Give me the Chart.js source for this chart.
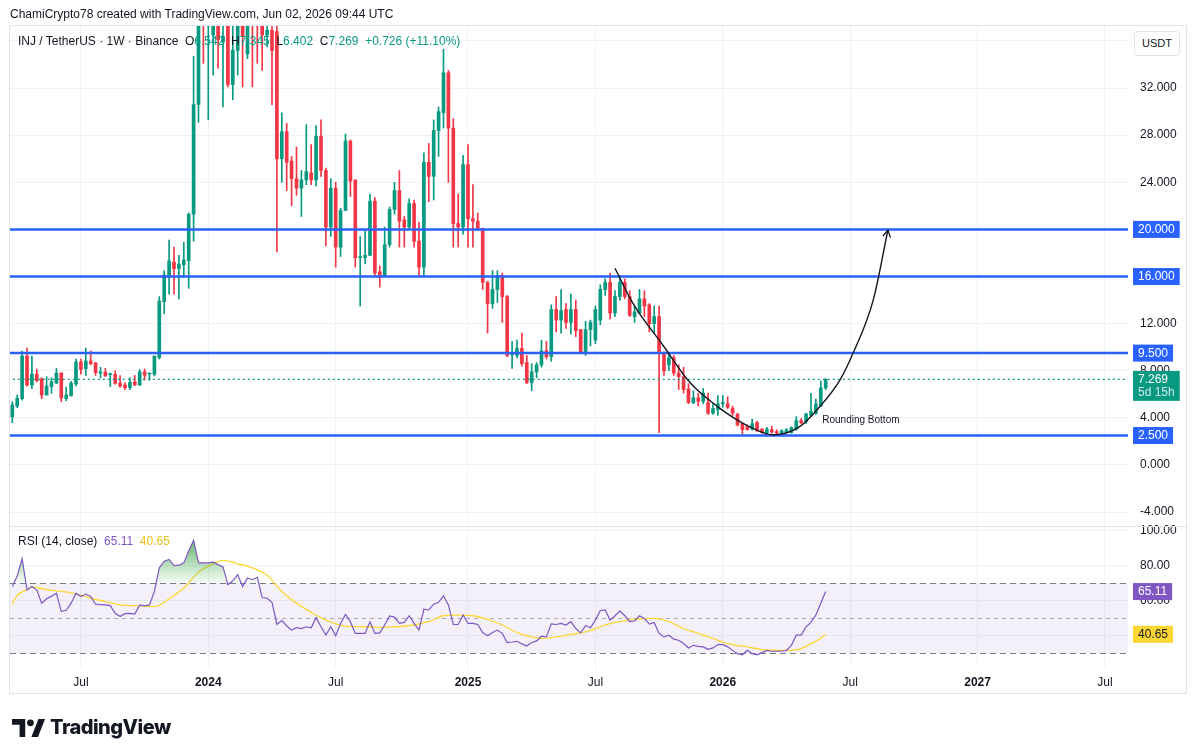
<!DOCTYPE html>
<html>
<head>
<meta charset="utf-8">
<title>INJ / TetherUS · 1W · Binance</title>
<script src="https://cdn.jsdelivr.net/npm/chart.js@4.4.1/dist/chart.umd.min.js"></script>
<style>
  html, body { margin: 0; padding: 0; background: #fff; }
  body { width: 1195px; height: 755px; position: relative; overflow: hidden;
         font-family: 'Liberation Sans', Arial, sans-serif; color: #131722; }
  #frame { position: absolute; left: 9px; top: 25px; width: 1178px; height: 669px;
           border: 1px solid #e0e3eb; box-sizing: border-box; }
  #wrap { position: absolute; left: 0; top: 0; width: 1195px; height: 755px; }
  .txt { position: absolute; white-space: nowrap; font-size: 12px; line-height: 14px; }
  #usdt { position: absolute; left: 1134px; top: 31px; width: 46px; height: 25px; box-sizing: border-box;
          border: 1px solid #e0e3eb; border-radius: 4px; font-size: 11px; line-height: 23px; text-align: center; background: #fff; }
  #logo { position: absolute; left: 12px; top: 715px; display: flex; align-items: center; }
  #logo b { font-family: Inter, 'Liberation Sans', sans-serif; font-weight: 800; font-size: 20px; letter-spacing: -0.5px; margin-left: 4px; }
</style>
</head>
<body>
<div id="frame"></div>
<div id="wrap"><canvas id="chart"></canvas></div>

<div class="txt" style="left:10px; top:7px; color:#131722;">ChamiCrypto78 created with TradingView.com, Jun 02, 2026 09:44 UTC</div>
<div class="txt" style="left:18px; top:34px;">INJ / TetherUS · 1W · Binance</div>
<div class="txt" id="ohlc" style="left:185px; top:34px;"></div>
<div class="txt" id="rsiLegend" style="left:18px; top:534px;"></div>
<div id="usdt">USDT</div>
<div id="logo">
  <svg width="34" height="19" viewBox="0 0 36 20">
    <path d="M14 20H8V7H0V1h14z" fill="#131722"/>
    <circle cx="19.5" cy="5" r="3.6" fill="#131722"/>
    <path d="M27.5 20h-7L28 1h7z" fill="#131722"/>
  </svg>
  <b>TradingView</b>
</div>

<script>
// weekly INJ/USDT candles, first bar = week of START_WEEK
const START_WEEK = '2023-03-27';
const opens = [4.07,5.0,5.63,9.25,6.79,7.72,7.33,5.94,6.65,6.96,7.8,5.63,5.88,6.88,8.74,8.18,8.83,8.66,7.8,7.87,
  7.68,7.7,6.96,6.79,6.56,7.05,6.79,7.89,7.72,7.7,9.11,13.86,16.07,17.23,16.67,17.0,17.34,21.3,30.6,42.0,
  37.5,36.5,38.5,35.9,38.0,32.3,35.2,38.0,34.9,44.0,42.0,38.5,36.5,36.9,36.8,26.0,28.3,25.8,24.3,23.5,
  24.2,24.8,24.2,27.9,25.0,20.2,23.5,18.5,21.6,27.5,24.2,17.6,17.6,17.8,22.4,16.4,16.1,18.7,21.7,23.3,
  20.8,20.2,22.2,19.0,16.8,25.7,24.5,28.4,29.9,33.3,28.6,20.5,20.2,25.5,20.9,20.7,20.1,15.5,13.7,14.9,
  16.1,14.3,9.35,9.3,9.9,8.7,7.0,7.9,8.5,9.7,9.2,13.2,12.3,13.2,12.1,13.2,11.5,9.6,11.5,10.6,
  12.3,14.9,15.5,12.9,14.3,15.5,14.3,12.6,12.9,14.1,13.6,12.0,12.6,9.5,8.5,9.1,7.8,7.5,6.45,5.3,
  5.7,5.4,5.3,4.4,4.7,5.2,5.2,4.8,4.3,3.5,3.25,3.05,3.6,3.05,2.75,3.0,2.83,2.75,2.8,2.75,
  3.03,3.76,3.68,4.22,4.39,5.0,6.542];
const highs = [5.37,5.94,9.68,9.93,9.25,8.15,7.4,7.5,7.4,8.2,7.85,6.62,7.1,9.0,9.0,9.93,9.68,8.7,8.3,8.2,
  7.8,8.0,7.6,7.0,7.4,7.6,8.1,8.15,7.8,9.25,14.3,16.5,19.1,18.5,17.8,18.9,21.4,34.7,41.0,45.0,
  42.0,40.0,39.0,38.0,39.0,37.5,40.0,39.0,42.0,46.0,44.0,40.0,37.5,37.5,37.3,29.9,29.0,26.2,27.0,25.0,
  28.9,27.2,28.8,29.3,25.2,24.3,24.0,21.8,28.1,27.6,24.2,19.4,19.9,23.0,22.7,16.9,20.2,21.9,24.0,25.0,
  21.1,22.6,22.5,20.6,26.5,27.3,29.3,30.4,35.3,33.5,29.4,23.0,26.3,27.2,23.8,21.4,20.1,15.6,16.5,16.5,
  16.3,14.4,10.5,10.6,11.2,9.3,8.6,8.7,10.6,10.5,13.6,14.3,14.9,13.7,14.5,14.0,11.5,12.2,12.3,13.5,
  15.3,15.8,16.3,14.8,16.1,15.8,14.8,13.5,14.9,14.8,13.7,13.5,13.5,9.6,9.4,9.3,8.5,8.3,6.9,6.3,
  6.1,6.5,6.1,5.2,5.9,5.9,5.8,5.0,4.4,3.6,3.4,3.9,3.7,3.1,3.2,3.3,3.0,3.0,3.1,3.25,
  4.1,3.95,4.4,6.09,5.6,7.13,7.345];
const lows = [3.59,4.86,5.5,6.7,6.48,7.05,5.63,5.94,6.08,6.9,5.37,5.45,5.85,6.7,7.72,7.6,8.5,7.6,7.4,7.5,
  6.65,6.85,6.6,6.4,6.4,6.75,6.75,7.2,7.2,7.55,9.0,12.84,14.5,14.5,14.1,15.9,15.0,19.0,29.1,34.1,
  29.3,33.1,33.7,30.4,32.1,31.0,33.1,32.1,34.5,32.1,34.1,33.5,35.5,30.6,18.1,24.0,23.3,22.0,22.9,21.1,
  23.8,23.8,23.7,24.5,18.6,19.4,16.8,17.7,21.6,22.8,16.8,13.5,17.1,17.8,16.1,15.1,16.0,18.5,21.3,18.5,
  18.5,20.1,18.5,16.1,16.0,22.35,22.5,26.2,28.6,24.0,18.5,18.5,19.6,18.5,18.5,19.9,14.9,11.2,13.3,13.8,
  12.1,9.2,8.2,9.1,8.4,6.9,6.3,7.4,8.3,9.0,8.8,11.3,11.2,11.6,11.1,10.9,9.6,9.3,10.1,10.3,
  11.9,14.4,12.4,12.6,14.0,14.1,12.6,12.1,12.9,12.6,11.3,11.2,2.74,7.6,8.0,7.6,6.4,6.1,5.2,5.2,
  5.0,5.2,4.3,4.3,4.2,4.9,4.8,4.2,3.3,2.6,2.95,2.95,2.85,2.7,2.7,2.7,2.65,2.7,2.75,2.7,
  2.95,3.5,3.5,4.1,4.3,4.95,6.402];
const closes = [5.09,5.66,9.25,6.79,7.72,7.16,5.94,6.7,7.07,7.8,5.69,5.94,6.96,8.74,8.12,8.83,8.6,7.84,7.9,7.58,
  7.74,6.93,6.7,6.56,7.02,6.79,7.89,7.63,7.78,9.25,13.92,16.13,17.32,16.67,17.06,17.4,21.3,30.6,39.0,37.5,
  39.0,38.5,36.1,36.4,32.3,35.2,38.0,36.4,39.0,40.0,38.5,36.5,36.9,35.2,26.0,28.3,25.7,24.3,23.5,24.2,
  24.9,24.2,27.9,25.0,20.2,23.5,18.5,21.6,27.5,24.1,17.6,17.65,17.8,22.4,16.3,16.1,18.7,21.7,23.3,20.7,
  20.2,22.2,19.0,16.8,25.7,24.5,28.4,30.0,33.3,28.6,20.5,20.2,25.5,20.9,20.7,20.1,15.5,13.7,14.9,16.1,
  14.3,9.3,9.5,9.9,8.6,7.0,7.9,8.5,9.7,9.2,13.2,12.3,13.1,12.1,13.2,11.4,9.6,11.5,12.1,13.2,
  14.9,15.5,12.9,14.3,15.5,14.3,12.7,13.0,14.1,13.5,12.0,12.6,9.5,8.0,9.1,7.8,7.5,6.4,5.3,5.7,
  5.4,6.1,4.4,4.8,5.2,5.3,4.9,4.4,3.4,3.0,3.0,3.5,2.9,2.75,3.05,2.8,2.72,2.9,2.97,3.17,
  3.76,3.59,4.33,4.56,5.18,6.543,7.269];

// RSI(14) per weekly bar and its moving average (read at sampled weeks)
const rsiValues = [68,74,84,66,68,66,58.5,61,62.5,64.2,53.7,54.4,58.5,64.2,62.3,63.7,62.3,57.9,57.6,57.5,
  57.1,52.7,50.8,52.5,52.7,52.3,57.5,56.9,57.5,65.2,78.7,82.5,83.5,80,80.2,81.5,88.3,94.4,81.5,81.5,
  81.5,81.9,80.5,79.2,69,71.3,74.8,68,72.9,71.9,73.3,61.7,61.3,59,46.3,48.5,45.6,43.1,44.5,44,
  45,44.4,50.2,45,40.2,45,39.8,46.9,52.1,47.9,41.2,41.2,41.2,47.9,41.2,41.5,46,51.2,50.5,46.9,
  47.5,51.3,46.9,43.1,55,54.6,57.9,59,62.7,57.5,46.3,46.3,51.7,46.9,46.9,46.3,41.7,39.8,41.7,43.1,
  41.2,36,36.3,36.7,35.2,34,36,36.9,39.6,39.2,46.7,46.3,46.9,46,47.9,44,41.5,45.6,44.4,48.8,
  54.3,54.6,48.8,51.3,54,51.3,47.9,48.3,51.3,49.8,46.5,47.5,41.2,39.2,40.2,37.9,37.3,35.4,32.9,34.4,
  33.8,33.5,32.1,32.9,34.8,34.8,33.5,31.5,29.6,29.0,31.5,29.6,29.0,30.2,31.5,31.0,31.0,31.0,31.5,34.4,
  40.2,40.2,45.0,47.5,51.7,58.5,65.11];
const rsiMaWeeks = [0,1,3,4,7,10,13,16,19,22,26,29,32,35,38,41,43,46,49,52,55,58,61,64,68,72,75,78,82,85,
  88,91,94,97,100,103,106,108,111,114,117,121,124,127,131,134,137,140,143,146,150,153,156,159,161,163,165,166];
const rsiMaValues = [57.9,62.9,66.2,67.7,66.2,65.2,63.8,61.3,59.4,57.5,56.9,56.5,61,67.1,76.2,81,83,81,78.7,74.4,
  65.2,58.5,53.3,48.8,45.4,45,44.6,45,46,47.9,51.3,51.7,51.3,49.2,46,41.7,39.2,38.3,39.2,40.6,
  42.1,46,47.9,49.2,49.8,47.9,44,41.2,38.3,35.4,33.5,31.9,31.5,31.5,32.5,35.4,38.3,40.65];

// drawn horizontal levels and the "Rounding Bottom" path
const levelPrices = [20, 16, 9.5, 2.5];
const curveWeeks  = [123.0,126.7,132.9,138.3,143.8,150.2,155.3,160.7,164.8,168.9,171.6,175.7,178.7];
const curvePrices = [16.7,13.7,10.1,7.0,5.0,3.3,2.55,3.25,4.95,7.2,9.5,14.0,19.95];
const patternNote = { text: 'Rounding Bottom', week: 165.3, price: 3.8 };

// axes
const timeTickDates  = ['2023-07-03','2024-01-01','2024-07-01','2025-01-06','2025-07-07','2026-01-05','2026-07-06','2027-01-04','2027-07-05'];
const timeTickLabels = ['Jul','2024','Jul','2025','Jul','2026','Jul','2027','Jul'];
const priceTicks = [-4,0,4,8,12,16,20,24,28,32,36];
const hiddenPriceTicks = [16,20,36];
const rsiTicks = [40,60,80,100];
const rsiBands = [70,50,30];

const UP = '#089981', DOWN = '#F23645', LEVEL = '#2962FF', RSI_C = '#7E57C2', MA_C = '#FDD835';
const FONT = "'Liberation Sans', Arial, sans-serif";
const WEEK_MS = 7 * 86400000;
const weekOf = d => Math.round((Date.parse(d) - Date.parse(START_WEEK)) / WEEK_MS);
const timeTickWeeks = timeTickDates.map(weekOf);

const last = closes.length - 1;
const lastClose = closes[last];
const chg = lastClose - closes[last - 1];

// legends
const g = v => `<span style="color:${UP}">${v}</span>`;
document.getElementById('ohlc').innerHTML =
  `O${g(opens[last].toFixed(3))}&nbsp; H${g(highs[last].toFixed(3))}&nbsp; L${g(lows[last].toFixed(3))}&nbsp; C${g(lastClose.toFixed(3))}&nbsp; ` +
  g(`+${chg.toFixed(3)} (+${(chg / closes[last - 1] * 100).toFixed(2)}%)`);
document.getElementById('rsiLegend').innerHTML =
  `RSI (14, close)&nbsp; <span style="color:${RSI_C}">${rsiValues[last].toFixed(2)}</span>&nbsp; <span style="color:#E8C21C">${rsiMaValues[rsiMaValues.length - 1].toFixed(2)}</span>`;

const bodyData = closes.map((c, i) => ({ x: i, y: [opens[i], c] }));
const wickData = highs.map((h, i) => ({ x: i, y: [lows[i], h] }));
const candleColors = closes.map((c, i) => (c >= opens[i] ? UP : DOWN));

const flat = (v, axis) => ({ data: [{ x: -5, y: v }, { x: 240, y: v }], yAxisID: axis });

function tag(ctx, x, yPix, lines, bg, colors) {
  ctx.font = `12px ${FONT}`;
  const w = Math.max(...lines.map(t => ctx.measureText(t).width)) + 10;
  const h = lines.length * 13 + 4;
  ctx.fillStyle = bg;
  ctx.fillRect(x, yPix - 8.5, w, h);
  ctx.textAlign = 'left';
  ctx.textBaseline = 'middle';
  lines.forEach((t, i) => {
    ctx.fillStyle = colors[i];
    ctx.fillText(t, x + 5, yPix + i * 13 + 0.5);
  });
}

const panes = {
  id: 'panes',
  beforeDatasetsDraw(chart) {
    const { ctx, chartArea, scales: { yr } } = chart;
    const top = yr.getPixelForValue(rsiBands[0]);
    const bot = yr.getPixelForValue(rsiBands[rsiBands.length - 1]);
    ctx.save();
    ctx.fillStyle = 'rgba(126,87,194,0.09)';
    ctx.fillRect(chartArea.left, top, chartArea.right - chartArea.left, bot - top);
    ctx.strokeStyle = '#787B86';
    ctx.lineWidth = 1;
    rsiBands.forEach((b, i) => {
      const y = Math.round(yr.getPixelForValue(b)) + 0.5;
      ctx.setLineDash(i === 1 ? [4, 4] : [6, 4]);
      ctx.globalAlpha = i === 1 ? 0.6 : 1;
      ctx.beginPath(); ctx.moveTo(chartArea.left, y); ctx.lineTo(chartArea.right, y); ctx.stroke();
    });
    ctx.setLineDash([]);
    ctx.globalAlpha = 1;
    ctx.strokeStyle = '#e0e3eb';
    ctx.beginPath(); ctx.moveTo(chartArea.left, yr.top + 0.5); ctx.lineTo(chart.width - 9, yr.top + 0.5); ctx.stroke();
    ctx.restore();
  },
  afterDatasetsDraw(chart) {
    const { ctx, scales: { x, y } } = chart;
    ctx.save();
    // arrow head at end of the curve
    const n = curveWeeks.length - 1;
    const x1 = x.getPixelForValue(curveWeeks[n]), y1 = y.getPixelForValue(curvePrices[n]);
    const x0 = x.getPixelForValue(curveWeeks[n] - 0.4), y0 = y.getPixelForValue(curvePrices[n] - 0.9);
    const a = Math.atan2(y1 - y0, x1 - x0);
    ctx.strokeStyle = '#131722';
    ctx.lineWidth = 1.3;
    ctx.beginPath();
    ctx.moveTo(x1 - 8 * Math.cos(a - 0.5), y1 - 8 * Math.sin(a - 0.5));
    ctx.lineTo(x1, y1);
    ctx.lineTo(x1 - 8 * Math.cos(a + 0.5), y1 - 8 * Math.sin(a + 0.5));
    ctx.stroke();
    ctx.font = `10px ${FONT}`;
    ctx.fillStyle = '#131722';
    ctx.textAlign = 'left';
    ctx.textBaseline = 'middle';
    ctx.fillText(patternNote.text, x.getPixelForValue(patternNote.week), y.getPixelForValue(patternNote.price));
    ctx.restore();
  },
  afterDraw(chart) {
    const { ctx, chartArea, scales: { y, yr } } = chart;
    const left = chartArea.right + 5;
    ctx.save();
    levelPrices.forEach(v => tag(ctx, left, y.getPixelForValue(v), [v.toFixed(3)], LEVEL, ['#fff']));
    tag(ctx, left, y.getPixelForValue(lastClose), [lastClose.toFixed(3), '5d 15h'], UP, ['#fff', 'rgba(255,255,255,0.8)']);
    tag(ctx, left, yr.getPixelForValue(rsiValues[last]), [rsiValues[last].toFixed(2)], RSI_C, ['#fff']);
    const ma = rsiMaValues[rsiMaValues.length - 1];
    tag(ctx, left, yr.getPixelForValue(ma), [ma.toFixed(2)], MA_C, ['#131722']);
    ctx.restore();
  }
};

new Chart(document.getElementById('chart'), {
  type: 'line',
  data: {
    datasets: [
      { ...flat(lastClose, 'y'), borderColor: UP, borderWidth: 1.2, borderDash: [2, 3], pointRadius: 0, order: 2 },
      ...levelPrices.map(v => ({ ...flat(v, 'y'), borderColor: LEVEL, borderWidth: 2.5, pointRadius: 0, order: 1 })),
      { data: curveWeeks.map((w, i) => ({ x: w, y: curvePrices[i] })), yAxisID: 'y', borderColor: '#131722',
        borderWidth: 1.4, pointRadius: 0, cubicInterpolationMode: 'monotone', order: 0 },
      { type: 'bar', data: wickData, yAxisID: 'y', backgroundColor: candleColors, barThickness: 1,
        grouped: false, order: 6 },
      { type: 'bar', data: bodyData, yAxisID: 'y', backgroundColor: candleColors, barThickness: 3,
        minBarLength: 1, grouped: false, order: 5 },
      { data: rsiValues.map((v, i) => ({ x: i, y: v })), yAxisID: 'yr', borderColor: RSI_C, borderWidth: 1.2,
        pointRadius: 0, order: 3,
        fill: { target: { value: rsiBands[0] }, below: 'rgba(0,0,0,0)' },
        backgroundColor: c => {
          const s = c.chart.scales.yr;
          if (!s || !c.chart.chartArea) return 'rgba(76,175,80,0.3)';
          const gr = c.chart.ctx.createLinearGradient(0, s.getPixelForValue(95), 0, s.getPixelForValue(rsiBands[0]));
          gr.addColorStop(0, 'rgba(56,160,70,0.8)');
          gr.addColorStop(1, 'rgba(76,175,80,0.05)');
          return gr;
        } },
      { data: rsiMaWeeks.map((w, i) => ({ x: w, y: rsiMaValues[i] })), yAxisID: 'yr', borderColor: MA_C,
        borderWidth: 1.3, pointRadius: 0, cubicInterpolationMode: 'monotone', order: 4 }
    ]
  },
  options: {
    responsive: true,
    maintainAspectRatio: false,
    animation: false,
    events: [],
    layout: { padding: { left: 10, top: 26, right: 9, bottom: 62 } },
    plugins: { legend: { display: false }, tooltip: { enabled: false } },
    scales: {
      x: {
        type: 'linear', position: 'bottom', min: -0.47, max: 227.7, offset: false,
        afterBuildTicks: s => { s.ticks = timeTickWeeks.map(v => ({ value: v })); },
        afterFit: s => { s.height = 26; },
        grid: { color: '#f0f1f4', drawTicks: false, offset: false },
        border: { display: false },
        ticks: {
          autoSkip: false, maxRotation: 0, padding: 8, color: '#131722',
          callback: (v, i) => timeTickLabels[i],
          font: c => ({ family: FONT, size: 12, weight: /^\d{4}$/.test(timeTickLabels[c.index] || '') ? 'bold' : 'normal' })
        }
      },
      y: {
        type: 'linear', position: 'right', stack: 'panes', stackWeight: 500, min: -5.18, max: 37.27,
        afterBuildTicks: s => { s.ticks = priceTicks.map(v => ({ value: v })); },
        afterFit: s => { s.width = 58; },
        grid: { color: '#f0f1f4', drawTicks: false },
        border: { display: false },
        ticks: { padding: 12, color: '#131722', font: { family: FONT, size: 12 },
                 callback: v => (hiddenPriceTicks.includes(v) ? '' : v.toFixed(3)) }
      },
      yr: {
        type: 'linear', position: 'right', stack: 'panes', stackWeight: 141, min: 22.0, max: 102.6,
        afterBuildTicks: s => { s.ticks = rsiTicks.map(v => ({ value: v })); },
        afterFit: s => { s.width = 58; },
        grid: { color: '#f0f1f4', drawTicks: false },
        border: { display: false },
        ticks: { padding: 12, color: '#131722', font: { family: FONT, size: 12 }, callback: v => v.toFixed(2) }
      }
    }
  },
  plugins: [panes]
});
</script>
</body>
</html>
